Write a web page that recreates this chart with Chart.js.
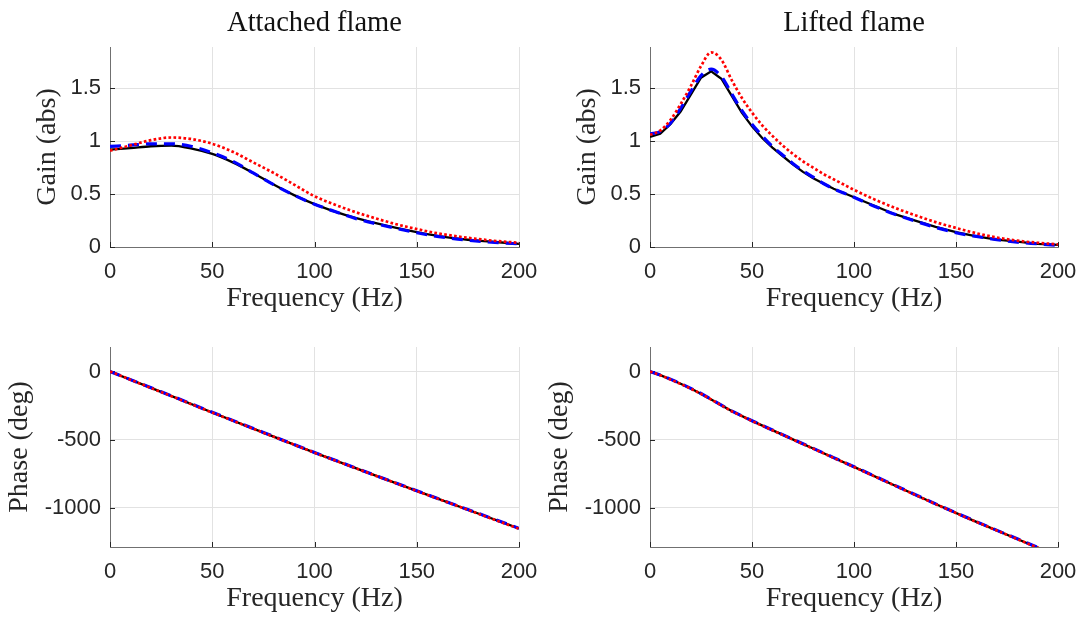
<!DOCTYPE html>
<html>
<head>
<meta charset="utf-8">
<title>Flame transfer function</title>
<script src="https://cdn.jsdelivr.net/npm/chart.js@4.4.1/dist/chart.umd.min.js"></script>
<style>
  html, body { margin: 0; padding: 0; background: #fff; overflow: hidden; width: 1084px; height: 618px; }
  .panel { position: absolute; }
  .panel canvas { display: block; }
</style>
</head>
<body>
<div class="panel" style="left:0;top:0"><canvas id="gainA" width="540" height="320"></canvas></div>
<div class="panel" style="left:540px;top:0"><canvas id="gainL" width="544" height="320"></canvas></div>
<div class="panel" style="left:0;top:300px"><canvas id="phaseA" width="540" height="318"></canvas></div>
<div class="panel" style="left:540px;top:300px"><canvas id="phaseL" width="544" height="318"></canvas></div>
<script>
// axis ticks
const freqTicks = [0, 50, 100, 150, 200];
const gainTicks = [0, 0.5, 1, 1.5];
const phaseTicks = [-1000, -500, 0];

// attached flame, gain (10 Hz steps)
const freqA = [0, 10, 20, 30, 40, 50, 60, 70, 80, 90, 100, 110, 120, 130, 140, 150, 160, 170, 180, 190, 200];
const gainA_meas = [0.92, 0.935, 0.952, 0.958, 0.93, 0.88, 0.80, 0.70, 0.59, 0.49, 0.405, 0.335, 0.275, 0.225, 0.18, 0.14, 0.105, 0.08, 0.06, 0.045, 0.03];
const gainA_fit = [0.95, 0.962, 0.975, 0.975, 0.95, 0.89, 0.81, 0.70, 0.59, 0.49, 0.405, 0.335, 0.27, 0.22, 0.175, 0.135, 0.10, 0.075, 0.055, 0.04, 0.03];
const gainA_model = [0.91, 0.96, 1.01, 1.035, 1.02, 0.975, 0.90, 0.80, 0.70, 0.59, 0.48, 0.40, 0.33, 0.27, 0.215, 0.17, 0.13, 0.10, 0.075, 0.055, 0.04];

// attached flame, phase
const freqPA = [0, 25, 50, 75, 100, 125, 150, 175, 200];
const phaseA_meas = [0, -150, -301, -449, -596, -738, -877, -1016, -1154];
const phaseA_fit = [0, -149, -300, -448, -595, -737, -876, -1015, -1153];
const phaseA_model = [0, -151, -302, -450, -597, -739, -878, -1017, -1156];

// lifted flame, gain
const freqL = [0, 5, 10, 15, 20, 25, 30, 35, 40, 45, 50, 55, 60, 65, 70, 75, 80, 85, 90, 95, 100, 110, 120, 130, 140, 150, 160, 170, 180, 190, 200];
const gainL_meas = [1.04, 1.07, 1.16, 1.28, 1.44, 1.60, 1.66, 1.59, 1.43, 1.27, 1.14, 1.03, 0.94, 0.86, 0.78, 0.71, 0.65, 0.60, 0.55, 0.51, 0.47, 0.39, 0.31, 0.25, 0.19, 0.14, 0.10, 0.07, 0.05, 0.03, 0.02];
const gainL_fit = [1.07, 1.09, 1.17, 1.31, 1.47, 1.62, 1.68, 1.61, 1.45, 1.29, 1.16, 1.05, 0.95, 0.87, 0.79, 0.72, 0.66, 0.60, 0.55, 0.51, 0.47, 0.385, 0.31, 0.245, 0.185, 0.135, 0.10, 0.07, 0.045, 0.03, 0.015];
const gainL_model = [1.06, 1.10, 1.20, 1.35, 1.52, 1.71, 1.84, 1.77, 1.58, 1.41, 1.27, 1.15, 1.05, 0.96, 0.88, 0.81, 0.75, 0.69, 0.64, 0.59, 0.54, 0.45, 0.37, 0.30, 0.235, 0.18, 0.13, 0.09, 0.06, 0.04, 0.025];

// lifted flame, phase
const freqPL = [0, 5, 10, 15, 20, 25, 30, 35, 40, 50, 60, 70, 80, 90, 100, 120, 140, 160, 180, 190, 200];
const phaseL_meas = [0, -27, -57, -90, -125, -163, -205, -248, -291, -363, -431, -499, -566, -634, -701, -838, -974, -1105, -1231, -1294, -1355];
const phaseL_fit = [0, -26, -56, -89, -124, -162, -204, -247, -290, -362, -430, -498, -565, -633, -700, -837, -973, -1104, -1230, -1293, -1354];
const phaseL_model = [0, -27, -58, -91, -126, -164, -206, -249, -292, -364, -432, -500, -567, -635, -702, -839, -975, -1106, -1232, -1295, -1356];

const TXT = '#262626';
const GRID = '#e2e2e2';
const AXIS = '#707070';
const SANS = "'Liberation Sans', Arial, sans-serif";
const SERIF = "'Liberation Serif', 'Times New Roman', serif";

// MATLAB-style tick marks pointing into the plot
const innerTicks = {
  id: 'innerTicks',
  beforeDatasetsDraw(chart) {
    const { ctx, chartArea: a, scales: { x, y } } = chart;
    ctx.save();
    ctx.strokeStyle = TXT;
    ctx.lineWidth = 1;
    ctx.beginPath();
    x.ticks.forEach((t) => {
      const px = Math.round(x.getPixelForValue(t.value)) + 0.5;
      ctx.moveTo(px, a.bottom);
      ctx.lineTo(px, a.bottom - 5);
    });
    y.ticks.forEach((t) => {
      const py = Math.round(y.getPixelForValue(t.value)) + 0.5;
      ctx.moveTo(a.left, py);
      ctx.lineTo(a.left + 5, py);
    });
    ctx.stroke();
    ctx.restore();
  },
};

function line(xs, ys, color, width, dash, order, smooth) {
  return {
    data: xs.map((f, i) => ({ x: f, y: ys[i] })),
    borderColor: color,
    borderWidth: width,
    borderDash: dash,
    borderCapStyle: 'butt',
    order,
    pointRadius: 0,
    fill: false,
    tension: 0,
    cubicInterpolationMode: smooth ? 'monotone' : 'default',
  };
}

function makePanel(id, cfg) {
  const xTicksFixed = (s) => { s.ticks = freqTicks.map((v) => ({ value: v })); };
  const yTicksFixed = (s) => { s.ticks = cfg.yTicks.map((v) => ({ value: v })); };
  return new Chart(document.getElementById(id), {
    type: 'line',
    data: { datasets: cfg.datasets },
    options: {
      responsive: false,
      animation: false,
      events: [],
      layout: { padding: { left: 0, top: cfg.padTop, right: cfg.padRight, bottom: 0 } },
      plugins: {
        legend: { display: false },
        tooltip: { enabled: false },
        title: {
          display: !!cfg.title,
          text: cfg.title || '',
          fullSize: false,
          color: '#111',
          font: { family: SERIF, size: 28.5, weight: 'normal' },
          padding: { top: 6.5, bottom: 6.3 },
        },
      },
      scales: {
        x: {
          type: 'linear',
          min: 0,
          max: 200,
          afterBuildTicks: xTicksFixed,
          afterFit: (s) => {
            s.height = cfg.xHeight;
            s.paddingLeft = 0;
            s.paddingRight = 0;
          },
          grid: { color: GRID, drawTicks: false },
          border: { color: AXIS },
          ticks: {
            color: TXT,
            font: { family: SANS, size: 22 },
            padding: 12,
            maxRotation: 0,
            callback: (v) => String(v),
          },
          title: {
            display: true,
            text: 'Frequency (Hz)',
            color: TXT,
            font: { family: SERIF, size: 28 },
            padding: { top: 0, bottom: cfg.xTitlePad },
          },
        },
        y: {
          type: 'linear',
          min: cfg.yMin,
          max: cfg.yMax,
          afterBuildTicks: yTicksFixed,
          afterFit: (s) => {
            s.width = 110;
            s.paddingTop = 0;
            s.paddingBottom = 0;
          },
          grid: { color: GRID, drawTicks: false },
          border: { color: AXIS },
          ticks: {
            color: TXT,
            font: { family: SANS, size: 22 },
            padding: 9,
            callback: (v) => String(v),
          },
          title: {
            display: true,
            text: cfg.yLabel,
            color: TXT,
            font: { family: SERIF, size: 28 },
            padding: { top: cfg.yTitlePad, bottom: 0 },
          },
        },
      },
    },
    plugins: [innerTicks],
  });
}

const BLACK = '#000000';
const BLUE = '#0000ff';
const RED = '#ff0000';
const DASH = [11, 7];
const DOT = [2.7, 2.3];

makePanel('gainA', {
  title: 'Attached flame',
  padTop: 0, padRight: 21, xHeight: 73, xTitlePad: 4.2,
  yLabel: 'Gain (abs)', yTitlePad: 31,
  yMin: 0, yMax: 1.89, yTicks: gainTicks,
  datasets: [
    line(freqA, gainA_meas, BLACK, 2.3, [], 3, true),
    line(freqA, gainA_fit, BLUE, 3.2, DASH, 2, true),
    line(freqA, gainA_model, RED, 2.7, DOT, 1, true),
  ],
});

makePanel('gainL', {
  title: 'Lifted flame',
  padTop: 0, padRight: 26, xHeight: 73, xTitlePad: 4.2,
  yLabel: 'Gain (abs)', yTitlePad: 31,
  yMin: 0, yMax: 1.89, yTicks: gainTicks,
  datasets: [
    line(freqL, gainL_meas, BLACK, 2.3, [], 3, false),
    line(freqL, gainL_fit, BLUE, 3.2, DASH, 2, true),
    line(freqL, gainL_model, RED, 2.7, DOT, 1, true),
  ],
});

makePanel('phaseA', {
  title: null,
  padTop: 47, padRight: 21, xHeight: 71, xTitlePad: 2.2,
  yLabel: 'Phase (deg)', yTitlePad: 3,
  yMin: -1290, yMax: 180, yTicks: phaseTicks,
  datasets: [
    line(freqPA, phaseA_meas, BLACK, 2.3, [], 3, false),
    line(freqPA, phaseA_fit, BLUE, 3.2, DASH, 2, false),
    line(freqPA, phaseA_model, RED, 2.7, DOT, 1, false),
  ],
});

makePanel('phaseL', {
  title: null,
  padTop: 47, padRight: 26, xHeight: 71, xTitlePad: 2.2,
  yLabel: 'Phase (deg)', yTitlePad: 3,
  yMin: -1290, yMax: 180, yTicks: phaseTicks,
  datasets: [
    line(freqPL, phaseL_meas, BLACK, 2.3, [], 3, false),
    line(freqPL, phaseL_fit, BLUE, 3.2, DASH, 2, false),
    line(freqPL, phaseL_model, RED, 2.7, DOT, 1, false),
  ],
});
</script>
</body>
</html>
